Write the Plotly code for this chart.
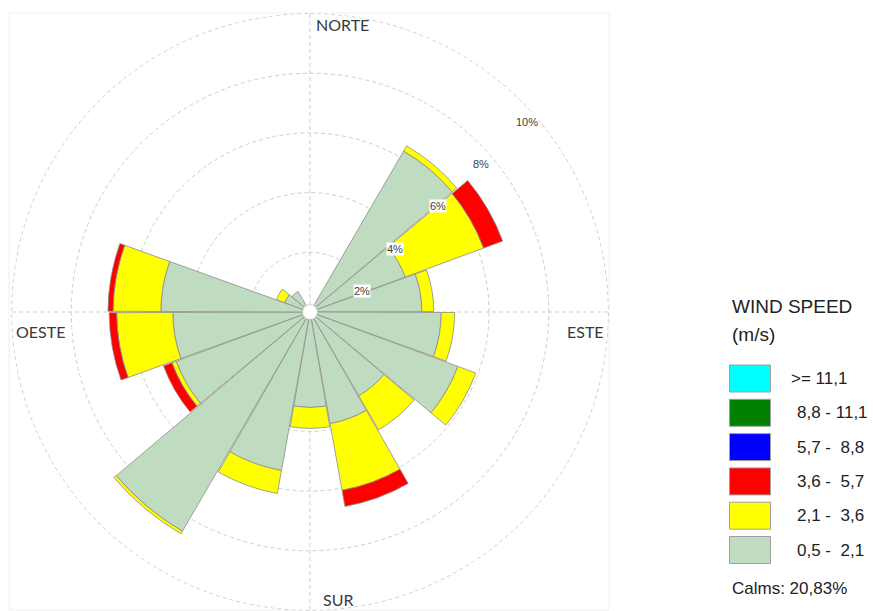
import math
import plotly.graph_objects as go

# Wind direction sectors (degrees, clockwise from north), 20-degree bins
directions = [0, 20, 40, 60, 80, 100, 120, 140, 160, 180,
              200, 220, 240, 260, 280, 300, 320, 340]

# Frequency (%) of each wind speed class per direction
speed_05_21 = [0, 0, 6.24, 3.40, 3.75, 4.40, 5.28, 3.25, 3.80, 3.20,
               5.40, 8.50, 4.78, 4.60, 5.00, 0.90, 0.80, 0]
speed_21_36 = [0, 0, 0.20, 2.80, 0.40, 0.45, 0.64, 1.32, 2.27, 0.70,
               0.78, 0.10, 0.15, 1.88, 1.60, 0.30, 0, 0]
speed_36_57 = [0, 0, 0, 0.68, 0, 0, 0, 0, 0.55, 0,
               0, 0, 0.30, 0.25, 0.17, 0, 0, 0]
speed_57_88 = [0] * 18
speed_88_111 = [0] * 18
speed_111_up = [0] * 18

class_labels = ["0,5 -\u00a0 2,1", "2,1 -\u00a0 3,6", "3,6 -\u00a0 5,7",
                "5,7 -\u00a0 8,8", "8,8 - 11,1", ">= 11,1"]
class_colors = ["#C0DCC0", "#FFFF00", "#FF0000", "#0000FF", "#008000", "#00FFFF"]
class_values = [speed_05_21, speed_21_36, speed_36_57,
                speed_57_88, speed_88_111, speed_111_up]

radial_ticks = [2, 4, 6, 8, 10]
compass_names = ["NORTE", "ESTE", "SUR", "OESTE"]
calms = "20,83"

W, H = 873, 611
R_MAX = 10.02


def px(x):
    return x / W


def py(y):
    return 1 - y / H


# polar area (pixels): circle centred at (310, 312) with radius 299
DOM_X = (10, 610)
DOM_Y = (13, 611)
CX, CY, RAD = 310, 312, 299
GRID_COLOR = "#cdcdcd"
GRID_DASH = "4px,3px"

fig = go.Figure()

# outermost dashed ring (sits on the edge of the radial range)
ring_theta = list(range(0, 361))
fig.add_trace(go.Scatterpolar(
    r=[radial_ticks[-1]] * len(ring_theta), theta=ring_theta, mode="lines",
    line=dict(color=GRID_COLOR, width=1, dash=GRID_DASH),
    showlegend=False, hoverinfo="skip",
))

for vals, name, col in zip(class_values, class_labels, class_colors):
    fig.add_trace(go.Barpolar(
        r=[v if v > 0 else None for v in vals],
        theta=directions,
        width=19.6,
        name=name,
        marker=dict(color=col, line=dict(color="#8c8c8c", width=0.8)),
        showlegend=False,
        hoverinfo="skip",
    ))

# white hub at the centre
fig.add_trace(go.Scatterpolar(
    r=[0], theta=[0], mode="markers",
    marker=dict(size=15, color="white", line=dict(color="#bbbbbb", width=0.6)),
    showlegend=False, hoverinfo="skip",
))

grid = dict(gridcolor=GRID_COLOR, griddash=GRID_DASH, gridwidth=1)
fig.update_layout(
    width=W, height=H,
    margin=dict(l=0, r=0, t=0, b=0),
    paper_bgcolor="white",
    polar=dict(
        domain=dict(x=[px(DOM_X[0]), px(DOM_X[1])], y=[py(DOM_Y[1]), py(DOM_Y[0])]),
        bgcolor="white",
        hole=0,
        barmode="stack",
        angularaxis=dict(rotation=90, direction="clockwise", dtick=90,
                         showticklabels=False, ticks="", showline=False, **grid),
        radialaxis=dict(range=[0, R_MAX], tickvals=radial_ticks,
                        showticklabels=False, ticks="", showline=False, **grid),
    ),
)

# faint frame around the rose
fig.add_shape(type="rect", xref="paper", yref="paper",
              x0=px(9), x1=px(609), y0=py(610), y1=py(13),
              line=dict(color="#efefef", width=1), fillcolor="rgba(0,0,0,0)",
              layer="below")


def label(x, y, text, size, family, color="#222222", xanchor="center", **kw):
    fig.add_annotation(x=px(x), y=py(y), xref="paper", yref="paper",
                       xanchor=xanchor, yanchor="middle", text=text, showarrow=False,
                       font=dict(family=family, size=size, color=color), **kw)


# radial scale labels along the north-east diagonal
tick_dx = [10, 1, 1, 2, 6]
for t, dx in zip(radial_ticks, tick_dx):
    rp = t * RAD / R_MAX
    x = CX + rp * math.sin(math.radians(45)) + dx
    y = CY - rp * math.cos(math.radians(45)) + 21
    label(x, y, f"{t}%", 11, "Liberation Sans, Arial", color="#404040",
          bgcolor="white", borderpad=0)

# compass point names
compass_pos = [(342, 25), (585, 331), (338, 599), (40, 331)]
for name, (x, y) in zip(compass_names, compass_pos):
    label(x, y, name, 16, "Lato, Open Sans, sans-serif", color="#3a3a3a")

# legend block
leg_font = "Liberation Sans, Arial"
label(730, 306, "WIND SPEED", 19, leg_font, xanchor="left")
label(730, 334, "(m/s)", 19, leg_font, xanchor="left")

top = 365
pitch = 34.3
for i, (name, col) in enumerate(zip(class_labels[::-1], class_colors[::-1])):
    y0 = top + i * pitch
    fig.add_shape(type="rect", xref="paper", yref="paper",
                  x0=px(729.5), x1=px(770.5), y0=py(y0 + 27), y1=py(y0),
                  fillcolor=col, line=dict(color="#a0a0a0", width=1))
    label(789 if i == 0 else 795, y0 + 13.5, name, 17, leg_font, xanchor="left")

label(730, 588, f"Calms: {calms}%", 17, leg_font, xanchor="left")

fig.write_html("out.html")
